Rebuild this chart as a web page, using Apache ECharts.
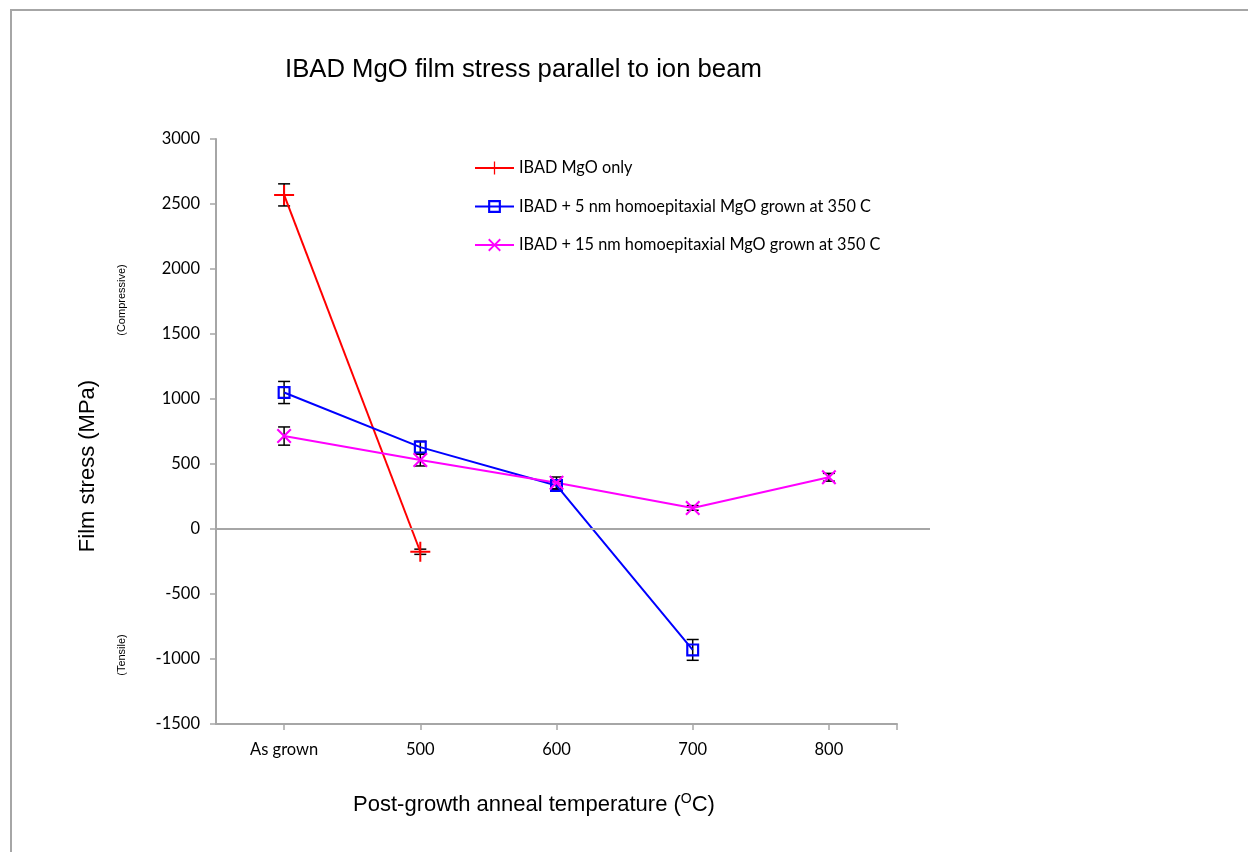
<!DOCTYPE html>
<html>
<head>
<meta charset="utf-8">
<script src="https://cdn.jsdelivr.net/npm/echarts@6/dist/echarts.min.js"></script>
<style>html,body{margin:0;padding:0;background:#fff;}#c{width:1248px;height:852px;}</style>
</head>
<body>
<div id="c"></div>
<script>
// ---- data ----
var categories = ['As grown', '500', '600', '700', '800'];
var seriesNames = ['IBAD MgO only', 'IBAD + 5 nm homoepitaxial MgO grown at 350 C', 'IBAD + 15 nm homoepitaxial MgO grown at 350 C'];
var ibadOnly = [2570, -175, null, null, null];
var ibadOnlyErr = [85, 20, null, null, null];
var ibad5nm = [1050, 630, 335, -930, null];
var ibad5nmErr = [85, 45, 30, 80, null];
var ibad15nm = [715, 530, 355, 162, 398];
var ibad15nmErr = [70, 45, 45, 18, 30];
var yTicks = { min: -1500, max: 3000, interval: 500 };

function toPoints(vals) {
  return vals.map(function (v, i) { return v === null ? [i, null] : [i, v]; });
}
function toErr(vals, errs) {
  var out = [];
  vals.forEach(function (v, i) { if (v !== null && errs[i] !== null) out.push([i, v - errs[i], v + errs[i]]); });
  return out;
}
var errData = [].concat(toErr(ibadOnly, ibadOnlyErr), toErr(ibad5nm, ibad5nmErr), toErr(ibad15nm, ibad15nmErr));

var plusPath = 'path://M9,0H11V20H9ZM0,9H20V11H0Z';
var squarePath = 'path://M0,0H12V12H0ZM2,2V10H10V2Z';
var crossPath = 'path://M0,2L2,0L10,8L18,0L20,2L12,10L20,18L18,20L10,12L2,20L0,18L8,10Z';

var chart = echarts.init(document.getElementById('c'), null, { renderer: 'canvas' });
var axisGray = '#a6a6a6';
var labelFont = 'Lato, Carlito, sans-serif';
var option = {
  backgroundColor: '#fff',
  animation: false,
  title: {
    text: 'IBAD MgO film stress parallel to ion beam',
    left: 280, top: 52,
    textStyle: { fontFamily: 'Liberation Sans, Arial', fontSize: 25.7, fontWeight: 'normal', color: '#000' }
  },
  legend: {
    orient: 'vertical', left: 474, top: 159, padding: 0,
    itemWidth: 39, itemHeight: 16, itemGap: 20.5,
    data: seriesNames,
    textStyle: { fontFamily: labelFont, fontSize: 16.3, lineHeight: 18, color: '#000' }
  },
  graphic: [
    { type: 'rect', shape: { x: 11, y: 10, width: 1400, height: 1000 }, style: { fill: 'none', stroke: axisGray, lineWidth: 2 }, silent: true, z: -10 },
    { type: 'text', x: 122, y: 300, rotation: Math.PI / 2, style: { text: '(Compressive)', fontFamily: 'Liberation Sans, Arial', fontSize: 11, fill: '#000', textAlign: 'center', textVerticalAlign: 'middle' } },
    { type: 'text', x: 122, y: 655, rotation: Math.PI / 2, style: { text: '(Tensile)', fontFamily: 'Liberation Sans, Arial', fontSize: 11, fill: '#000', textAlign: 'center', textVerticalAlign: 'middle' } },
    { type: 'text', x: 88, y: 466, rotation: Math.PI / 2, style: { text: 'Film stress (MPa)', fontFamily: 'Liberation Sans, Arial', fontSize: 22, fill: '#000', textAlign: 'center', textVerticalAlign: 'middle' } },
    {
      type: 'text', x: 534, y: 805,
      style: {
        text: '{n|Post-growth anneal temperature (}{s|O}{n|C)}',
        textAlign: 'center', textVerticalAlign: 'middle',
        rich: {
          n: { fontFamily: 'Liberation Sans, Arial', fontSize: 22, fill: '#000' },
          s: { fontFamily: 'Liberation Sans, Arial', fontSize: 14, fill: '#000', padding: [0, 0, 11, 0] }
        }
      }
    }
  ],
  grid: [
    { left: 216, top: 139, width: 681, height: 585, containLabel: false },
    { left: 216, top: 139, width: 714, height: 585, containLabel: false }
  ],
  xAxis: [
    {
      type: 'value', gridIndex: 0, min: -0.5, max: 4.5,
      splitLine: { show: false },
      axisLine: { onZero: false, lineStyle: { color: axisGray, width: 2 } },
      axisTick: { customValues: [0, 1, 2, 3, 4, 4.5], length: 6, lineStyle: { color: axisGray, width: 1.5 } },
      axisLabel: {
        customValues: [0, 1, 2, 3, 4], margin: 17,
        formatter: function (v) { return categories[Math.round(v)]; },
        fontFamily: labelFont, fontSize: 16.5, color: '#000'
      }
    },
    { type: 'value', gridIndex: 1, min: 0, max: 1, show: false }
  ],
  yAxis: [
    {
      type: 'value', gridIndex: 0, min: yTicks.min, max: yTicks.max, interval: yTicks.interval,
      splitLine: { show: false },
      axisLine: { show: true, onZero: false, lineStyle: { color: axisGray, width: 2 } },
      axisTick: { show: true, length: 6, lineStyle: { color: axisGray, width: 1.5 } },
      axisLabel: { margin: 16, formatter: function (v) { return String(v); }, fontFamily: labelFont, fontSize: 16.5, color: '#000' }
    },
    { type: 'value', gridIndex: 1, min: yTicks.min, max: yTicks.max, show: false }
  ],
  series: [
    {
      type: 'line', xAxisIndex: 1, yAxisIndex: 1, data: [], silent: true,
      markLine: { silent: true, symbol: 'none', label: { show: false }, lineStyle: { color: axisGray, width: 2, type: 'solid' }, data: [{ yAxis: 0 }] }
    },
    {
      type: 'custom', xAxisIndex: 0, yAxisIndex: 0, z: 1,
      data: errData,
      renderItem: function (params, api) {
        var x = api.value(0);
        var pTop = api.coord([x, api.value(2)]);
        var pBot = api.coord([x, api.value(1)]);
        var w = 6;
        var st = { stroke: '#000', lineWidth: 1.5 };
        return {
          type: 'group', children: [
            { type: 'line', shape: { x1: pTop[0], y1: pTop[1], x2: pBot[0], y2: pBot[1] }, style: st },
            { type: 'line', shape: { x1: pTop[0] - w, y1: pTop[1], x2: pTop[0] + w, y2: pTop[1] }, style: st },
            { type: 'line', shape: { x1: pBot[0] - w, y1: pBot[1], x2: pBot[0] + w, y2: pBot[1] }, style: st }
          ]
        };
      }
    },
    {
      name: seriesNames[0], type: 'line', z: 3, data: toPoints(ibadOnly),
      symbol: plusPath, symbolSize: 20, showAllSymbol: true,
      lineStyle: { color: '#ff0000', width: 2 }, itemStyle: { color: '#ff0000' }
    },
    {
      name: seriesNames[1], type: 'line', z: 3, data: toPoints(ibad5nm),
      symbol: squarePath, symbolSize: 13, showAllSymbol: true,
      lineStyle: { color: '#0000ff', width: 2 }, itemStyle: { color: '#0000ff' }
    },
    {
      name: seriesNames[2], type: 'line', z: 3, data: toPoints(ibad15nm),
      symbol: crossPath, symbolSize: 15, showAllSymbol: true,
      lineStyle: { color: '#ff00ff', width: 2 }, itemStyle: { color: '#ff00ff' }
    }
  ]
};
chart.setOption(option);
</script>
</body>
</html>
